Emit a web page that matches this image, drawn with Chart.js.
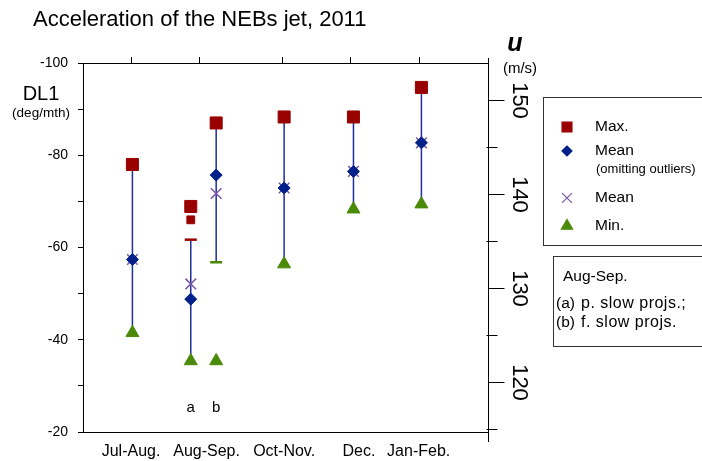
<!DOCTYPE html>
<html>
<head>
<meta charset="utf-8">
<script src="https://cdn.jsdelivr.net/npm/chart.js@4.4.1/dist/chart.umd.min.js"></script>
<style>
  body { margin: 0; background: #fff; }
  #wrap { position: relative; width: 702px; height: 461px; }
</style>
</head>
<body>
<div id="wrap"><canvas id="chart" width="702" height="461"></canvas></div>
<script>
// periods on the bottom axis, and where their ticks / labels sit on x
const periods = ['Jul-Aug.', 'Aug-Sep.', 'Oct-Nov.', 'Dec.', 'Jan-Feb.'];
const periodTickX = [0.7, 1.7, 2.9, 3.9, 4.9];
const periodLabelX = [0.7, 1.8, 2.93, 4.02, 4.89];

// one column per period, Aug-Sep. split in (a) and (b)
const columns = ['Jul-Aug.', 'Aug-Sep. (a)', 'Aug-Sep. (b)', 'Oct-Nov.', 'Dec.', 'Jan-Feb.'];
const columnX = [0.72, 1.57, 1.94, 2.93, 3.94, 4.93];
const subLabels = ['', 'a', 'b', '', '', ''];

// DL1 (deg/mth)
const maxDL1 = [-78.0, -68.9, -87.0, -88.3, -88.3, -94.7];
const meanTrimmed = [-57.4, -48.8, -75.7, -72.9, -76.5, -82.7];
const meanAll = [-57.4, -52.1, -71.7, -72.9, -76.5, -82.7];
const minDL1 = [-41.5, -35.4, -35.4, -56.4, -68.3, -69.4];
// whisker ends (outliers left out for Aug-Sep.)
const rangeTop = [-78.0, -61.7, -87.0, -88.3, -88.3, -94.7];
const rangeBottom = [-41.5, -35.4, -56.8, -56.4, -68.3, -69.4];
// 2nd max of (a), and the cut ends of the (a)/(b) whiskers
const maxSecond = [null, -66.0, null, null, null, null];
const cutTop = [null, -61.7, null, null, null, null];
const cutBottom = [null, null, -56.8, null, null, null];

// tick labels
const dl1Ticks = [-100, -90, -80, -70, -60, -50, -40, -30, -20];
const uTicks = [115, 120, 125, 130, 135, 140, 145, 150];

const FONT = "'Liberation Sans', Arial, sans-serif";
const RED = '#990000', NAVY = '#00208a', PURPLE = '#7a55a8', GREEN = '#4a8a08', LINE = '#1f2f9c';

const pts = arr => columnX.map((x, i) => ({ x: x, y: arr[i] })).filter(p => p.y !== null);
const whisker = columnX.flatMap((x, i) => [{ x: x, y: rangeTop[i] }, { x: x, y: rangeBottom[i] }, { x: x, y: null }]);

function marker(label, data, style, radius, color, bw) {
  return {
    label: label, data: pts(data), showLine: false,
    pointStyle: style, pointRadius: radius, pointHoverRadius: radius,
    pointBackgroundColor: color, pointBorderColor: color, pointBorderWidth: bw || 1
  };
}

const decor = {
  id: 'decor',
  afterDraw(chart) {
    const ctx = chart.ctx, area = chart.chartArea;
    const xs = chart.scales.x, y2 = chart.scales.y2;
    ctx.save();
    ctx.fillStyle = '#000';
    ctx.textBaseline = 'alphabetic';

    // title + axis names
    ctx.font = '22px ' + FONT;
    ctx.textAlign = 'left';
    ctx.fillText('Acceleration of the NEBs jet, 2011', 33, 26);
    ctx.font = '20px ' + FONT;
    ctx.textAlign = 'center';
    ctx.fillText('DL1', 41, 100);
    ctx.font = '13.5px ' + FONT;
    ctx.fillText('(deg/mth)', 41, 117);
    ctx.font = 'italic bold 25px ' + FONT;
    ctx.fillText('u', 515, 51);
    ctx.font = '15px ' + FONT;
    ctx.fillText('(m/s)', 520, 73);

    // right axis: longer line, ticks and turned labels
    const rx = Math.round(area.right) + 0.5;
    ctx.strokeStyle = '#000';
    ctx.lineWidth = 1;
    ctx.beginPath();
    ctx.moveTo(rx, 58);
    ctx.lineTo(rx, 442);
    ctx.stroke();
    y2.ticks.forEach(t => {
      const y = Math.round(y2.getPixelForValue(t.value)) + 0.5;
      const major = t.value % 10 === 0;
      ctx.beginPath();
      ctx.moveTo(major ? rx : rx - 2, y);
      ctx.lineTo(major ? rx + 16 : rx + 9, y);
      ctx.stroke();
      if (major) {
        ctx.save();
        ctx.translate(519, y);
        ctx.rotate(Math.PI / 2);
        ctx.font = '22px ' + FONT;
        ctx.textAlign = 'center';
        ctx.textBaseline = 'middle';
        ctx.fillText(String(t.value), 0, 0);
        ctx.restore();
      }
    });

    // a / b under the split column
    ctx.font = '15px ' + FONT;
    ctx.textAlign = 'center';
    subLabels.forEach((s, i) => {
      if (s) ctx.fillText(s, xs.getPixelForValue(columnX[i]), area.bottom - 20);
    });

    // legend box
    ctx.strokeStyle = '#333';
    ctx.strokeRect(543.5, 97.5, 170, 148);
    const rows = [
      { text: 'Max.', y: 127, style: 'rect', r: 7, color: RED },
      { text: 'Mean', y: 151, style: 'rectRot', r: 5, color: NAVY, sub: '(omitting outliers)' },
      { text: 'Mean', y: 198, style: 'crossRot', r: 7, color: PURPLE },
      { text: 'Min.', y: 226, style: 'triangle', r: 6.5, color: GREEN }
    ];
    rows.forEach(row => {
      ctx.fillStyle = row.color;
      ctx.strokeStyle = row.color;
      ctx.lineWidth = 1.2;
      Chart.helpers.drawPoint(ctx, { pointStyle: row.style, radius: row.r, rotation: 0, borderWidth: 1.2 }, 567, row.y);
      ctx.fillStyle = '#000';
      ctx.font = '15.5px ' + FONT;
      ctx.textAlign = 'left';
      ctx.textBaseline = 'middle';
      ctx.fillText(row.text, 595, row.y);
      if (row.sub) {
        ctx.font = '13px ' + FONT;
        ctx.fillText(row.sub, 596, row.y + 18);
      }
    });

    // note box
    ctx.strokeStyle = '#333';
    ctx.lineWidth = 1;
    ctx.strokeRect(553.5, 256.5, 160, 90);
    ctx.fillStyle = '#000';
    ctx.font = '15.5px ' + FONT;
    ctx.textAlign = 'left';
    ctx.textBaseline = 'middle';
    ctx.fillText('Aug-Sep.', 563, 277);
    ctx.fillText('(a)', 556, 304);
    ctx.fillText('(b)', 556, 323);
    ctx.font = '16px ' + FONT;
    ctx.letterSpacing = '0.5px';
    ctx.fillText('p. slow projs.;', 581, 304);
    ctx.fillText('f. slow projs.', 581, 323);
    ctx.restore();
  }
};

new Chart(document.getElementById('chart'), {
  type: 'scatter',
  data: {
    datasets: [
      marker('Mean (omitting outliers)', meanTrimmed, 'rectRot', 6, NAVY),
      marker('Mean', meanAll, 'crossRot', 7.5, PURPLE, 1.5),
      marker('Max.', maxDL1, 'rect', 8.5, RED),
      marker('Max. (2nd)', maxSecond, 'rect', 5.5, RED),
      marker('Min.', minDL1, 'triangle', 7.5, GREEN),
      marker('cut top', cutTop, 'line', 6, RED, 2.5),
      marker('cut bottom', cutBottom, 'line', 6, GREEN, 2.5),
      {
        label: 'range', data: whisker, showLine: true, spanGaps: false,
        borderColor: LINE, borderWidth: 1.5, pointRadius: 0, pointHoverRadius: 0
      }
    ]
  },
  options: {
    responsive: false,
    animation: false,
    events: [],
    layout: { padding: 0 },
    plugins: { legend: { display: false }, tooltip: { enabled: false }, title: { display: false } },
    scales: {
      x: {
        type: 'linear', position: 'bottom', min: 0, max: 5.9, bounds: 'data',
        afterBuildTicks: s => { s.ticks = periodLabelX.map(v => ({ value: v })); },
        afterFit: s => { s.height = 29; },
        grid: { drawOnChartArea: false, drawTicks: false },
        border: { color: '#000', width: 1 },
        ticks: {
          autoSkip: false, maxRotation: 0, padding: 10, color: '#000',
          font: { family: FONT, size: 16 },
          callback: (v, i) => periods[i]
        }
      },
      x2: {
        type: 'linear', position: 'top', min: 0, max: 5.9, bounds: 'data',
        afterBuildTicks: s => { s.ticks = periodTickX.map(v => ({ value: v })); },
        afterFit: s => { s.height = 63; },
        grid: { drawOnChartArea: false, tickLength: 6, color: '#000' },
        border: { color: '#000', width: 1 },
        ticks: { display: false }
      },
      y: {
        type: 'linear', position: 'left', reverse: true, min: -100, max: -20, bounds: 'data',
        afterBuildTicks: s => { s.ticks = dl1Ticks.map(v => ({ value: v })); },
        afterFit: s => { s.width = 83; },
        grid: { drawOnChartArea: false, tickLength: 5, color: '#000' },
        border: { color: '#000', width: 1 },
        ticks: {
          autoSkip: false, padding: 10, color: '#000',
          font: { family: FONT, size: 14 },
          callback: v => (v % 20 === 0 ? String(v) : '')
        }
      },
      y2: {
        type: 'linear', position: 'right', min: 114.7, max: 153.9, bounds: 'data',
        afterBuildTicks: s => { s.ticks = uTicks.map(v => ({ value: v })); },
        afterFit: s => { s.width = 214; },
        grid: { display: false, drawOnChartArea: false, drawTicks: false },
        border: { display: false },
        ticks: { display: false }
      }
    }
  },
  plugins: [decor]
});
</script>
</body>
</html>
